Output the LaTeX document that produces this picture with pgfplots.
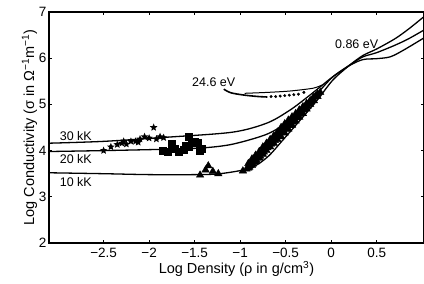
\documentclass[border=0pt]{standalone}
\usepackage{fontspec}
\setmainfont{Liberation Sans}
\usepackage{pgfplots}
\pgfplotsset{compat=1.18}
\usetikzlibrary{plotmarks}
\pgfdeclareplotmark{fstar}{%
  \pgfpathmoveto{\pgfpointpolar{90}{\pgfplotmarksize}}%
  \pgfpathlineto{\pgfpointpolar{126}{0.45\pgfplotmarksize}}%
  \pgfpathlineto{\pgfpointpolar{162}{\pgfplotmarksize}}%
  \pgfpathlineto{\pgfpointpolar{198}{0.45\pgfplotmarksize}}%
  \pgfpathlineto{\pgfpointpolar{234}{\pgfplotmarksize}}%
  \pgfpathlineto{\pgfpointpolar{270}{0.45\pgfplotmarksize}}%
  \pgfpathlineto{\pgfpointpolar{306}{\pgfplotmarksize}}%
  \pgfpathlineto{\pgfpointpolar{342}{0.45\pgfplotmarksize}}%
  \pgfpathlineto{\pgfpointpolar{18}{\pgfplotmarksize}}%
  \pgfpathlineto{\pgfpointpolar{54}{0.45\pgfplotmarksize}}%
  \pgfpathclose\pgfusepathqfill}
\begin{document}
\begin{tikzpicture}
\begin{axis}[
  scale only axis, width=375pt, height=231pt,
  xmin=-3.1, xmax=1.02, ymin=2, ymax=7,
  axis line style={line width=1.6pt},
  xtick={-2.5,-2,-1.5,-1,-0.5,0,0.5},
  xticklabels={−2.5,−2,−1.5,−1,−0.5,0,0.5},
  ytick={2,3,4,5,6,7},
  yticklabels={2,3,4,5,6,7},
  tick style={black, line width=0.6pt}, major tick length=3pt,
  ticklabel style={font=\fontsize{13.5}{15}\selectfont},
  xticklabel style={yshift=-2pt},
  yticklabel style={xshift=1pt},
  label style={font=\fontsize{14.5}{16}\selectfont},
  xlabel={Log Density (ρ in g/cm\textsuperscript{3})},
  ylabel={Log Conductivity (σ in Ω\textsuperscript{−1}m\textsuperscript{−1})},
  xlabel style={yshift=4pt},
  ylabel style={yshift=-5pt},
  clip=true,
]
% 30 kK
\addplot[black, line width=1.3pt, smooth] coordinates {
(-3.1,4.16) (-2.5,4.2) (-1.8,4.29) (-1.08,4.40) (-0.7,4.6) (-0.45,4.88) (-0.26,5.16) (-0.12,5.38) (0.02,5.6) (0.21,5.85) (0.35,5.97) (0.5,5.99) (0.65,6.03) (0.8,6.18) (1.02,6.44)};
% 20 kK
\addplot[black, line width=1.3pt, smooth] coordinates {
(-3.1,3.98) (-2.5,4.0) (-1.8,4.03) (-1.4,4.06) (-1.08,4.14) (-0.7,4.36) (-0.45,4.66) (-0.26,5.03) (-0.12,5.31) (0.02,5.6) (0.21,5.86) (0.35,6.03) (0.5,6.12) (0.7,6.28) (0.85,6.42) (1.02,6.61)};
% 10 kK
\addplot[black, line width=1.3pt, smooth] coordinates {
(-3.1,3.52) (-2.5,3.5) (-2.0,3.48) (-1.5,3.48) (-1.22,3.5) (-0.89,3.62) (-0.70,3.86) (-0.53,4.23) (-0.34,4.66) (-0.15,5.1) (0.02,5.53) (0.21,5.86) (0.35,6.06) (0.5,6.2) (0.7,6.42) (0.85,6.63) (1.02,6.9)};
% 24.6 eV
\addplot[black, line width=1.6pt, smooth] coordinates {
(-1.18,5.33) (-1.1,5.25) (-0.95,5.2) (-0.8,5.17) (-0.7,5.16)};
\addplot[black, line width=1.0pt, smooth] coordinates {
(-0.95,5.24) (-0.7,5.26) (-0.45,5.29) (-0.2,5.35) (-0.1,5.42)};
\addplot[black, only marks, mark=*, mark size=1.3pt] coordinates {
(-0.66,5.17) (-0.61,5.17) (-0.56,5.18) (-0.51,5.19) (-0.46,5.2) (-0.41,5.21) (-0.36,5.22) (-0.3,5.26)};
% stars
\addplot[black, only marks, mark=fstar, mark size=4pt] coordinates {
(-2.5,4.0) (-2.42,4.08) (-2.35,4.13) (-2.3,4.16) (-2.25,4.14) (-2.2,4.2) (-2.15,4.2) (-2.1,4.25) (-2.05,4.3) (-2.0,4.27) (-1.95,4.5) (-1.92,4.25) (-1.88,4.3) (-1.84,4.28) (-2.28,4.2) (-2.12,4.18)};
% squares
\addplot[black, only marks, mark=square*, mark size=3.5pt] coordinates {
(-1.85,4.0) (-1.8,3.97) (-1.75,4.15) (-1.72,4.05) (-1.68,3.98) (-1.62,4.03) (-1.6,4.1) (-1.56,4.3) (-1.53,4.18) (-1.56,4.08) (-1.5,4.2) (-1.47,4.17) (-1.44,4.0) (-1.42,4.05)};
% triangles
\addplot[black, only marks, mark=triangle*, mark size=4.3pt] coordinates {
(-1.44,3.47) (-1.38,3.58) (-1.35,3.67) (-1.3,3.55) (-1.24,3.5)
(-0.97,3.56) (-0.93,3.6) (-0.91,3.62) (-0.91,3.72) (-0.87,3.68) (-0.87,3.82) (-0.83,3.76) (-0.83,3.90)
(-0.79,3.84) (-0.79,3.98) (-0.75,3.92) (-0.75,4.08) (-0.71,4.0) (-0.71,4.16) (-0.67,4.08) (-0.67,4.24)
(-0.63,4.16) (-0.63,4.32) (-0.59,4.24) (-0.59,4.40) (-0.55,4.30) (-0.55,4.50) (-0.51,4.38) (-0.51,4.58)
(-0.47,4.46) (-0.47,4.66) (-0.43,4.55) (-0.43,4.73) (-0.39,4.64) (-0.39,4.80) (-0.35,4.72) (-0.35,4.88)
(-0.31,4.80) (-0.31,4.95) (-0.27,4.9) (-0.27,5.02) (-0.23,5.0) (-0.23,5.08) (-0.19,5.08) (-0.19,5.16)
(-0.15,5.17) (-0.15,5.23) (-0.12,5.26)
(-0.89,3.67) (-0.85,3.76) (-0.81,3.84) (-0.77,3.93) (-0.73,4.03) (-0.69,4.12) (-0.65,4.2) (-0.61,4.28)
(-0.57,4.37) (-0.53,4.45) (-0.49,4.52) (-0.45,4.6) (-0.41,4.68) (-0.37,4.77) (-0.33,4.85) (-0.29,4.93)
(-0.25,5.02) (-0.21,5.1) (-0.17,5.18)
(-0.88,3.72) (-0.84,3.80) (-0.80,3.88) (-0.76,3.97) (-0.72,4.06) (-0.68,4.15) (-0.64,4.24) (-0.60,4.32)
(-0.56,4.41) (-0.52,4.49) (-0.48,4.57) (-0.44,4.64) (-0.40,4.72) (-0.36,4.81) (-0.32,4.89) (-0.28,4.97)
(-0.24,5.05) (-0.20,5.13)
(-0.90,3.64) (-0.86,3.71) (-0.82,3.79) (-0.78,3.88) (-0.74,3.97) (-0.70,4.06) (-0.66,4.14) (-0.62,4.22)
(-0.58,4.31) (-0.54,4.39) (-0.50,4.46) (-0.46,4.54) (-0.42,4.62) (-0.38,4.71) (-0.34,4.79) (-0.30,4.88)
(-0.26,4.96) (-0.22,5.05)};
\node[font=\fontsize{12.5}{14}\selectfont, anchor=west] at (axis cs:-3.02,4.31) {30 kK};
\node[font=\fontsize{12.5}{14}\selectfont, anchor=west] at (axis cs:-3.02,3.82) {20 kK};
\node[font=\fontsize{12.5}{14}\selectfont, anchor=west] at (axis cs:-3.02,3.31) {10 kK};
\node[font=\fontsize{12.5}{14}\selectfont] at (axis cs:-1.29,5.47) {24.6 eV};
\node[font=\fontsize{12.5}{14}\selectfont] at (axis cs:0.28,6.3) {0.86 eV};
\end{axis}
\pgfresetboundingbox
\path[use as bounding box] ([xshift=-49pt,yshift=-41pt]current axis.south west) rectangle ([yshift=12pt]current axis.north east);
\end{tikzpicture}
\end{document}
